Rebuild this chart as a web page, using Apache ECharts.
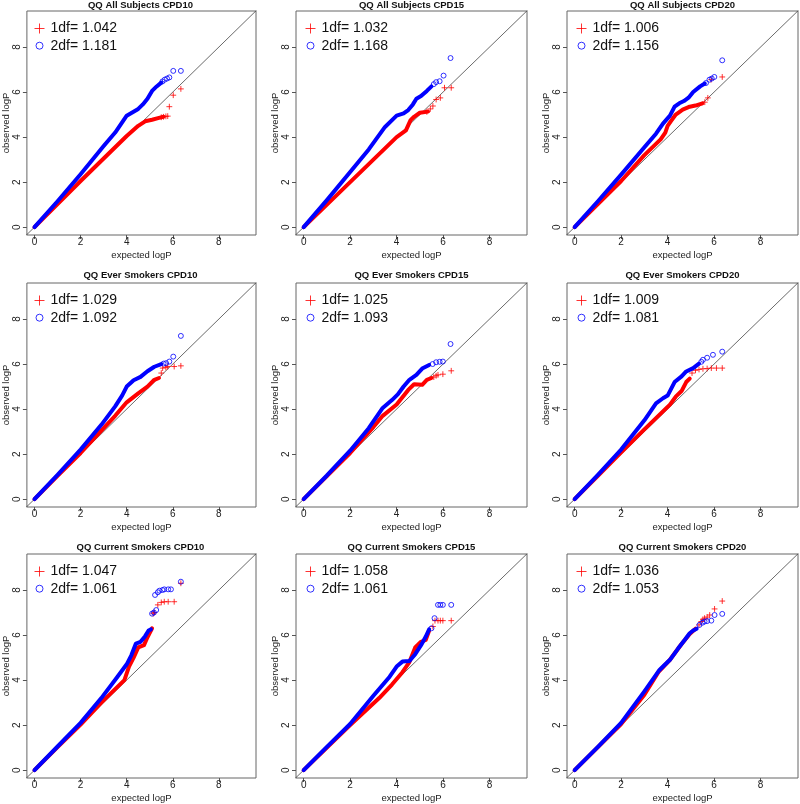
<!DOCTYPE html>
<html><head><meta charset="utf-8">
<script src="https://cdn.jsdelivr.net/npm/echarts@6/dist/echarts.min.js"></script>
<style>html,body{margin:0;padding:0;background:#fff}#c{width:800px;height:804px}</style>
</head><body><div id="c"></div>
<script>
const titles = ['QQ All Subjects CPD10','QQ All Subjects CPD15','QQ All Subjects CPD20',
  'QQ Ever Smokers CPD10','QQ Ever Smokers CPD15','QQ Ever Smokers CPD20',
  'QQ Current Smokers CPD10','QQ Current Smokers CPD15','QQ Current Smokers CPD20'];
const lambda1df = ['1.042','1.032','1.006','1.029','1.025','1.009','1.047','1.058','1.036'];
const lambda2df = ['1.181','1.168','1.156','1.092','1.093','1.081','1.061','1.061','1.053'];
const tickValues = [0,2,4,6,8];
const diagonal = [[-1,-1],[11,11]];

// panel 1
const p1Red = [[0,0],[1,1.02],[2,2.05],[3,3.05],[4,4.05],[4.5,4.5],[4.8,4.7],[5.1,4.77],[5.4,4.85],[5.6,4.9]];
const p1RedTail = [[5.5,4.88],[5.6,4.9],[5.7,4.92],[5.78,4.93],[5.85,5.35],[6.02,5.86],[6.35,6.14]];
const p1Blue = [[0,0],[1,1.15],[2,2.35],[3,3.6],[3.5,4.2],[4,4.95],[4.5,5.25],[4.7,5.45],[4.9,5.7],[5.1,6.05],[5.3,6.25],[5.5,6.42]];
const p1BlueTail = [[5.55,6.47],[5.65,6.55],[5.75,6.6],[5.85,6.65],[6.02,6.94],[6.35,6.94]];
// panel 2
const p2Red = [[0,0],[1,1.0],[2,2.0],[3,3.0],[4,4.0],[4.4,4.3],[4.6,4.75],[4.75,4.9],[5,5.08],[5.35,5.13]];
const p2RedTail = [[5.3,5.12],[5.45,5.25],[5.56,5.38],[5.7,5.67],[5.88,5.74],[6.06,6.19],[6.35,6.19]];
const p2Blue = [[0,0],[1,1.2],[2,2.45],[2.8,3.45],[3.5,4.45],[4,4.95],[4.3,5.05],[4.5,5.2],[4.7,5.45],[4.85,5.7],[5.05,5.82],[5.3,6.05],[5.5,6.25]];
const p2BlueTail = [[5.6,6.35],[5.7,6.44],[5.85,6.48],[6.02,6.73],[6.32,7.51]];
// panel 3
const p3Red = [[0,0],[1,1.02],[2,2.05],[3,3.2],[3.4,3.6],[3.7,3.9],[3.9,4.2],[4.0,4.5],[4.15,4.72],[4.35,5.0],[4.65,5.22],[4.95,5.35],[5.2,5.4],[5.5,5.5]];
const p3RedTail = [[5.6,5.55],[5.73,5.74],[5.87,6.55],[6.35,6.67]];
const p3Blue = [[0,0],[1,1.15],[2,2.33],[3,3.55],[3.5,4.15],[3.8,4.6],[4.1,4.95],[4.3,5.35],[4.5,5.5],[4.7,5.6],[4.9,5.75],[5.1,6.0],[5.4,6.25],[5.6,6.38]];
const p3BlueTail = [[5.65,6.4],[5.8,6.55],[5.9,6.6],[6.01,6.67],[6.35,7.41]];
// panel 4
const p4Red = [[0,0],[1,1.03],[2,2.05],[3,3.15],[3.5,3.7],[4,4.3],[4.5,4.7],[4.9,5.0],[5.2,5.3],[5.4,5.38]];
const p4RedTail = [[5.5,5.6],[5.56,5.82],[5.7,5.85],[5.78,5.89],[6.06,5.89],[6.35,5.92]];
const p4Blue = [[0,0],[1,1.08],[2,2.2],[2.9,3.3],[3.5,4.12],[3.8,4.6],[4.0,5.0],[4.3,5.28],[4.6,5.43],[4.9,5.68],[5.2,5.88],[5.5,6.0]];
const p4BlueTail = [[5.6,6.02],[5.71,6.04],[5.85,6.11],[6.02,6.33],[6.35,7.25]];
// panel 5
const p5Red = [[0,0],[1,1.02],[2,2.05],[3,3.2],[3.4,3.7],[4,4.2],[4.5,4.85],[4.75,5.1],[5.1,5.08],[5.3,5.3],[5.5,5.38]];
const p5RedTail = [[5.6,5.42],[5.7,5.48],[5.78,5.52],[5.99,5.55],[6.35,5.7]];
const p5Blue = [[0,0],[1,1.05],[2,2.15],[2.8,3.15],[3.4,4.05],[3.8,4.4],[4.05,4.65],[4.3,5.0],[4.55,5.3],[4.85,5.52],[5.1,5.8],[5.4,5.96]];
const p5BlueTail = [[5.55,6.0],[5.7,6.08],[5.85,6.1],[5.99,6.11],[6.32,6.89]];
// panel 6
const p6Red = [[0,0],[1,1.03],[2,2.08],[3,3.1],[3.4,3.5],[3.8,3.9],[4.1,4.2],[4.35,4.55],[4.6,4.8],[4.8,5.2],[4.95,5.35]];
const p6RedTail = [[5.05,5.6],[5.2,5.72],[5.35,5.76],[5.52,5.79],[5.7,5.8],[5.88,5.82],[6.1,5.82],[6.35,5.82]];
const p6Blue = [[0,0],[1,1.08],[2,2.2],[3,3.5],[3.5,4.25],[3.8,4.48],[4.0,4.6],[4.3,5.2],[4.6,5.45],[4.8,5.67],[5.1,5.82],[5.35,6.02]];
const p6BlueTail = [[5.45,6.1],[5.52,6.19],[5.7,6.28],[5.95,6.41],[6.35,6.55]];
// panel 7
const p7Red = [[0,0],[1,1.02],[2,2.02],[2.9,3.0],[3.9,4.0],[4.1,4.6],[4.3,5.0],[4.5,5.45],[4.75,5.55],[4.9,5.9],[5.1,6.3]];
const p7RedTail = [[5.15,6.95],[5.2,7.0],[5.35,7.34],[5.5,7.45],[5.63,7.48],[5.8,7.48],[6.06,7.48],[6.35,8.3]];
const p7Blue = [[0,0],[1,1.05],[2,2.1],[2.9,3.2],[3.6,4.15],[4.0,4.7],[4.2,5.1],[4.4,5.62],[4.6,5.7],[4.8,5.95],[4.95,6.2],[5.05,6.25]];
const p7BlueTail = [[5.1,6.95],[5.18,7.0],[5.28,7.11],[5.23,7.78],[5.35,7.9],[5.42,7.97],[5.55,8.0],[5.63,8.03],[5.8,8.03],[5.92,8.03],[6.35,8.37]];
// panel 8
const p8Red = [[0,0],[1,1.0],[2,2.0],[3.25,3.2],[3.8,3.8],[4.25,4.35],[4.55,4.8],[4.8,5.45],[5.05,5.7],[5.25,5.78],[5.4,6.2]];
const p8RedTail = [[5.56,6.38],[5.65,6.64],[5.78,6.64],[5.88,6.64],[5.99,6.64],[6.35,6.64]];
const p8Blue = [[0,0],[1,1.03],[2,2.05],[3,3.3],[3.7,4.15],[4.0,4.6],[4.25,4.82],[4.55,4.85],[4.8,5.15],[5.05,5.55],[5.25,5.92],[5.4,6.25]];
const p8BlueTail = [[5.5,6.3],[5.63,6.75],[5.78,7.34],[5.88,7.34],[5.99,7.34],[6.35,7.34]];
// panel 9
const p9Red = [[0,0],[1,1.02],[2,2.05],[3,3.35],[3.6,4.35],[4.1,4.9],[4.6,5.6],[4.95,6.05],[5.2,6.28]];
const p9RedTail = [[5.35,6.45],[5.45,6.6],[5.52,6.7],[5.59,6.75],[5.7,6.8],[5.81,6.89],[6.02,7.16],[6.35,7.51]];
const p9Blue = [[0,0],[1,1.03],[2,2.1],[3,3.5],[3.65,4.45],[4.1,4.9],[4.45,5.4],[4.75,5.8],[4.95,6.08],[5.1,6.2],[5.25,6.28]];
const p9BlueTail = [[5.37,6.45],[5.5,6.55],[5.59,6.6],[5.7,6.62],[5.88,6.64],[6.02,6.89],[6.35,6.94]];

const redBands = [p1Red,p2Red,p3Red,p4Red,p5Red,p6Red,p7Red,p8Red,p9Red];
const redTails = [p1RedTail,p2RedTail,p3RedTail,p4RedTail,p5RedTail,p6RedTail,p7RedTail,p8RedTail,p9RedTail];
const blueBands = [p1Blue,p2Blue,p3Blue,p4Blue,p5Blue,p6Blue,p7Blue,p8Blue,p9Blue];
const blueTails = [p1BlueTail,p2BlueTail,p3BlueTail,p4BlueTail,p5BlueTail,p6BlueTail,p7BlueTail,p8BlueTail,p9BlueTail];

const FONT = '"Liberation Sans", Arial, Helvetica, sans-serif';
const RED = '#ff0000', BLUE = '#0000ff';
const lefts = [25, 296, 567], tops = [11, 283, 554];
const W = 231, H = 224;
// symbols: bounding box 12x12 so that the mark occupies a part of it
const plusSym = 'path://M0,0M12,12M6,1V11M1,6H11';
const circSym = 'path://M0,0M12,12M9.5,6A3.5,3.5,0,1,1,2.5,6A3.5,3.5,0,1,1,9.5,6Z';

const grid = [], xAxis = [], yAxis = [], title = [], legend = [], series = [];
for (let i = 0; i < 9; i++) {
  const L = lefts[i % 3], T = tops[Math.floor(i / 3)];
  grid.push({left: L, top: T, width: W, height: H, show: true, borderColor: '#666', borderWidth: 1, backgroundColor: 'transparent'});
  const axCommon = {
    axisLine: {show: false, onZero: false},
    splitLine: {show: false},
    axisTick: {show: true, length: 4, lineStyle: {color: '#555', width: 1}, customValues: tickValues},
    nameLocation: 'middle',
    nameTextStyle: {fontFamily: FONT, fontSize: 9.5, color: '#222'}
  };
  xAxis.push(Object.assign({}, axCommon, {
    type: 'value', gridIndex: i, position: 'bottom', min: -0.33, max: 9.61, name: 'expected logP', nameGap: 15,
    axisLabel: {customValues: tickValues, margin: 2, fontFamily: FONT, fontSize: 10, color: '#222'}
  }));
  yAxis.push(Object.assign({}, axCommon, {
    type: 'value', gridIndex: i, position: 'left', min: -0.35, max: 9.6, name: 'observed logP', nameGap: 15,
    axisLabel: {customValues: tickValues, margin: 5, rotate: 90, fontFamily: FONT, fontSize: 10, color: '#222'}
  }));
  const titleCenters = [5, 275, 547];
  title.push({
    text: titles[i], left: L + W / 2, top: titleCenters[Math.floor(i / 3)] - 6, textAlign: 'center', padding: 0,
    textStyle: {fontFamily: FONT, fontSize: 9.5, fontWeight: 'bold', color: '#111', lineHeight: 12}
  });
  const n1 = '1df= ' + lambda1df[i], n2 = '2df= ' + lambda2df[i];
  legend.push({
    orient: 'vertical', left: L + 8, top: T + 10.5, padding: 0, itemGap: 3.2,
    itemWidth: 12, itemHeight: 12, selectedMode: false,
    itemStyle: {borderWidth: 1},
    textStyle: {fontFamily: FONT, fontSize: 14, color: '#111', lineHeight: 14},
    data: [n1, n2]
  });
  series.push({
    type: 'line', xAxisIndex: i, yAxisIndex: i, data: diagonal, showSymbol: false, silent: true, clip: true,
    lineStyle: {color: '#444', width: 0.8}, z: 1
  });
  series.push({
    type: 'line', name: 'band1_' + i, xAxisIndex: i, yAxisIndex: i, data: redBands[i], showSymbol: false, silent: true,
    lineStyle: {color: RED, width: 4, join: 'round', cap: 'round'}, itemStyle: {color: RED}, z: 2
  });
  series.push({
    type: 'scatter', name: n1, xAxisIndex: i, yAxisIndex: i, data: redTails[i], symbol: plusSym, symbolSize: 7, silent: true,
    itemStyle: {color: 'rgba(255,0,0,0)', borderColor: RED, borderWidth: 1}, z: 3
  });
  series.push({
    type: 'line', name: 'band2_' + i, xAxisIndex: i, yAxisIndex: i, data: blueBands[i], showSymbol: false, silent: true,
    lineStyle: {color: BLUE, width: 4, join: 'round', cap: 'round'}, itemStyle: {color: BLUE}, z: 4
  });
  series.push({
    type: 'scatter', name: n2, xAxisIndex: i, yAxisIndex: i, data: blueTails[i], symbol: circSym, symbolSize: 8.5, silent: true,
    itemStyle: {color: 'rgba(0,0,255,0)', borderColor: BLUE, borderWidth: 1}, z: 5
  });
}

const chart = echarts.init(document.getElementById('c'), null, {renderer: 'canvas'});
chart.setOption({animation: false, backgroundColor: '#fff', grid, xAxis, yAxis, title, legend, series});
</script></body></html>
